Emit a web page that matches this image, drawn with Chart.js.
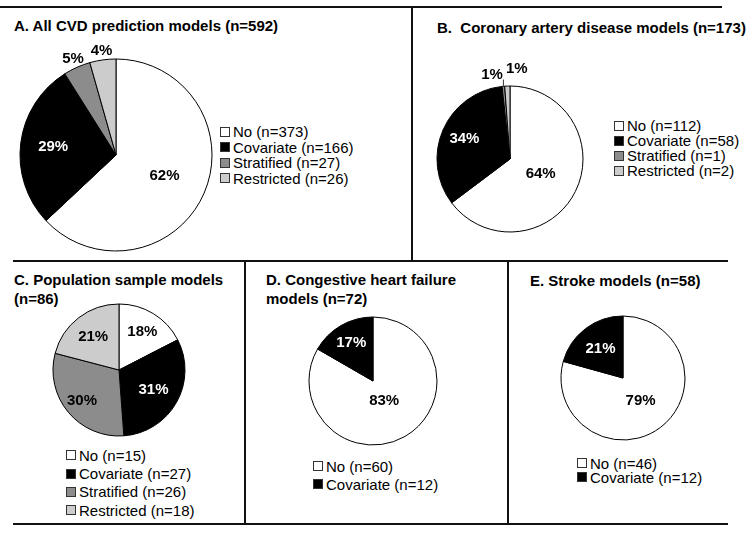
<!DOCTYPE html>
<html>
<head>
<meta charset="utf-8">
<script src="https://cdn.jsdelivr.net/npm/chart.js@4/dist/chart.umd.min.js"></script>
<style>
  html,body{margin:0;padding:0;background:#fff;width:754px;height:533px;overflow:hidden;}
  body{position:relative;font-family:"Liberation Sans",Arial,sans-serif;color:#000;}
  .ln{position:absolute;background:#111;}
  .title{position:absolute;font-weight:bold;font-size:15px;line-height:19px;white-space:pre;}
  .legend{position:absolute;font-size:15px;white-space:nowrap;}
  .legend .row{display:flex;align-items:center;}
  .legend .sq{display:inline-block;width:8px;height:8px;border:1px solid #333;margin-right:3px;box-sizing:content-box;}
  canvas{position:absolute;}
</style>
</head>
<body>
<!-- panel frame lines -->
<div class="ln" style="left:0;top:6px;width:722px;height:2px"></div>
<div class="ln" style="left:411px;top:6px;width:2px;height:255px"></div>
<div class="ln" style="left:13px;top:260px;width:715px;height:2px"></div>
<div class="ln" style="left:244px;top:260px;width:2px;height:264px"></div>
<div class="ln" style="left:507px;top:260px;width:2px;height:264px"></div>
<div class="ln" style="left:13px;top:523px;width:715px;height:2px"></div>

<div class="title" id="tA" style="left:14px;top:16px"></div>
<div class="title" id="tB" style="left:437px;top:18px"></div>
<div class="title" id="tC" style="left:14px;top:270px"></div>
<div class="title" id="tD" style="left:266px;top:270px"></div>
<div class="title" id="tE" style="left:530px;top:271px"></div>

<div class="legend" id="lA" style="left:220px;top:124px"></div>
<div class="legend" id="lB" style="left:614px;top:118px"></div>
<div class="legend" id="lC" style="left:66px;top:446px"></div>
<div class="legend" id="lD" style="left:313px;top:457px"></div>
<div class="legend" id="lE" style="left:577px;top:456px"></div>

<canvas id="cA" width="230" height="270" style="left:1px;top:20px"></canvas>
<canvas id="cB" width="200" height="200" style="left:410px;top:59px"></canvas>
<canvas id="cC" width="150" height="150" style="left:44px;top:295px"></canvas>
<canvas id="cD" width="140" height="140" style="left:303px;top:311px"></canvas>
<canvas id="cE" width="140" height="140" style="left:553px;top:308px"></canvas>

<script>
// ---- data ----
const categories = ['No', 'Covariate', 'Stratified', 'Restricted'];
const sliceColors = ['#ffffff', '#000000', '#8c8c8c', '#cccccc'];

const titleA = 'A. All CVD prediction models (n=592)';
const countsA = [373, 166, 27, 26];
const pctA = ['62%', '29%', '5%', '4%'];

const titleB = 'B.  Coronary artery disease models (n=173)';
const countsB = [112, 58, 1, 2];
const pctB = ['64%', '34%', '1%', '1%'];

const titleC = 'C. Population sample models\n(n=86)';
const countsC = [15, 27, 26, 18];
const pctC = ['18%', '31%', '30%', '21%'];

const titleD = 'D. Congestive heart failure\nmodels (n=72)';
const countsD = [60, 12];
const pctD = ['83%', '17%'];

const titleE = 'E. Stroke models (n=58)';
const countsE = [46, 12];
const pctE = ['79%', '21%'];

// ---- label plugin ----
const pctLabels = {
  id: 'pctLabels',
  afterDatasetsDraw(chart, args, opts) {
    const ctx = chart.ctx;
    const meta = chart.getDatasetMeta(0);
    const ds = chart.data.datasets[0];
    ctx.save();
    ctx.font = 'bold 15px "Liberation Sans", Arial, sans-serif';
    ctx.textAlign = 'center';
    ctx.textBaseline = 'middle';
    const pos = meta.data.map((arc, i) => {
      const p = arc.getProps(['x', 'y', 'startAngle', 'endAngle', 'outerRadius'], true);
      const mid = (p.startAngle + p.endAngle) / 2;
      const f = opts.factors[i];
      return {
        i, f,
        x: p.x + Math.cos(mid) * p.outerRadius * f,
        y: p.y + Math.sin(mid) * p.outerRadius * f,
        ex: p.x + Math.cos(mid) * p.outerRadius,
        ey: p.y + Math.sin(mid) * p.outerRadius,
        outside: f > 1
      };
    });
    const outs = pos.filter(p => p.outside);
    for (let k = 1; k < outs.length; k++) {
      const a = outs[k - 1], b = outs[k];
      const need = (ctx.measureText(opts.labels[a.i]).width + ctx.measureText(opts.labels[b.i]).width) / 2 + 3;
      const d = b.x - a.x;
      if (Math.abs(b.y - a.y) < 16 && d < need) {
        const s = (need - d) / 2;
        a.x -= s; b.x += s;
        a.y += 3; b.y -= 3;
        a.leader = true;
      }
    }
    pos.forEach(p => {
      if (p.leader) {
        const w = ctx.measureText(opts.labels[p.i]).width;
        ctx.strokeStyle = '#333';
        ctx.lineWidth = 1;
        ctx.beginPath();
        ctx.moveTo(p.ex, p.ey);
        ctx.lineTo(p.ex, p.y + 5);
        ctx.lineTo(p.x + w / 2, p.y + 5);
        ctx.stroke();
      }
      const bg = ds.backgroundColor[p.i];
      ctx.fillStyle = (!p.outside && bg === '#000000') ? '#ffffff' : '#000000';
      ctx.fillText(opts.labels[p.i], p.x, p.y);
    });
    ctx.restore();
  }
};

function makePie(id, counts, labels, radius, factors) {
  new Chart(document.getElementById(id), {
    type: 'pie',
    data: {
      labels: categories.slice(0, counts.length),
      datasets: [{
        data: counts,
        backgroundColor: sliceColors.slice(0, counts.length),
        borderColor: '#000000',
        borderWidth: 1,
        radius: radius
      }]
    },
    options: {
      responsive: false,
      animation: false,
      events: [],
      layout: { padding: 0 },
      plugins: {
        legend: { display: false },
        tooltip: { enabled: false },
        pctLabels: { labels: labels, factors: factors }
      }
    },
    plugins: [pctLabels]
  });
}

function makeLegend(id, counts, rowH) {
  const el = document.getElementById(id);
  counts.forEach((n, i) => {
    const row = document.createElement('div');
    row.className = 'row';
    row.style.height = rowH + 'px';
    const sq = document.createElement('span');
    sq.className = 'sq';
    sq.style.background = sliceColors[i];
    const tx = document.createElement('span');
    tx.textContent = categories[i] + ' (n=' + n + ')';
    row.appendChild(sq);
    row.appendChild(tx);
    el.appendChild(row);
  });
}

document.getElementById('tA').textContent = titleA;
document.getElementById('tB').textContent = titleB;
document.getElementById('tC').textContent = titleC;
document.getElementById('tD').textContent = titleD;
document.getElementById('tE').textContent = titleE;

makeLegend('lA', countsA, 15.5);
makeLegend('lB', countsB, 15);
makeLegend('lC', countsC, 18.4);
makeLegend('lD', countsD, 18.3);
makeLegend('lE', countsE, 14);

makePie('cA', countsA, pctA, 96, [0.55, 0.66, 1.1, 1.1]);
makePie('cB', countsB, pctB, 73, [0.47, 0.68, 1.2, 1.2]);
makePie('cC', countsC, pctC, 66, [0.68, 0.6, 0.73, 0.64]);
makePie('cD', countsD, pctD, 64, [0.35, 0.68]);
makePie('cE', countsE, pctE, 62, [0.47, 0.6]);
</script>
</body>
</html>
